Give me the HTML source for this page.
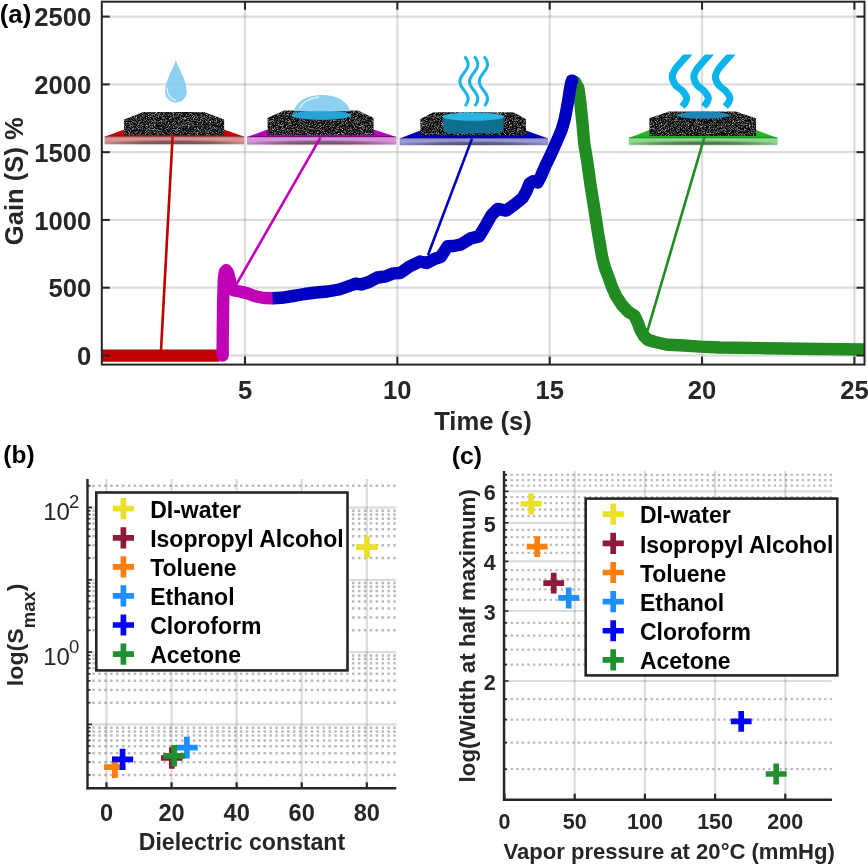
<!DOCTYPE html>
<html><head><meta charset="utf-8"><style>
html,body{margin:0;padding:0;background:#fff;}
svg{display:block;will-change:transform;}
text{font-family:"Liberation Sans", sans-serif;}
</style></head><body>
<svg width="868" height="864" viewBox="0 0 868 864">
<rect width="868" height="864" fill="#fff"/>
<line x1="245" y1="1.7" x2="245" y2="364.6" stroke="#000" stroke-width="2.3" stroke-opacity="0.135"/>
<line x1="397.35" y1="1.7" x2="397.35" y2="364.6" stroke="#000" stroke-width="2.3" stroke-opacity="0.135"/>
<line x1="549.7" y1="1.7" x2="549.7" y2="364.6" stroke="#000" stroke-width="2.3" stroke-opacity="0.135"/>
<line x1="702.05" y1="1.7" x2="702.05" y2="364.6" stroke="#000" stroke-width="2.3" stroke-opacity="0.135"/>
<line x1="854.4" y1="1.7" x2="854.4" y2="364.6" stroke="#000" stroke-width="2.3" stroke-opacity="0.135"/>
<line x1="101.8" y1="355.5" x2="864.5" y2="355.5" stroke="#000" stroke-width="2.3" stroke-opacity="0.135"/>
<line x1="101.8" y1="287.72" x2="864.5" y2="287.72" stroke="#000" stroke-width="2.3" stroke-opacity="0.135"/>
<line x1="101.8" y1="219.94" x2="864.5" y2="219.94" stroke="#000" stroke-width="2.3" stroke-opacity="0.135"/>
<line x1="101.8" y1="152.16" x2="864.5" y2="152.16" stroke="#000" stroke-width="2.3" stroke-opacity="0.135"/>
<line x1="101.8" y1="84.38" x2="864.5" y2="84.38" stroke="#000" stroke-width="2.3" stroke-opacity="0.135"/>
<line x1="101.8" y1="16.6" x2="864.5" y2="16.6" stroke="#000" stroke-width="2.3" stroke-opacity="0.135"/>
<text x="91.2" y="365.1" font-size="25.6" font-weight="bold" text-anchor="end" fill="#262626" >0</text>
<text x="91.2" y="297.32" font-size="25.6" font-weight="bold" text-anchor="end" fill="#262626" >500</text>
<text x="91.2" y="229.54" font-size="25.6" font-weight="bold" text-anchor="end" fill="#262626" >1000</text>
<text x="91.2" y="161.76" font-size="25.6" font-weight="bold" text-anchor="end" fill="#262626" >1500</text>
<text x="91.2" y="93.98" font-size="25.6" font-weight="bold" text-anchor="end" fill="#262626" >2000</text>
<text x="91.2" y="26.2" font-size="25.6" font-weight="bold" text-anchor="end" fill="#262626" >2500</text>
<text x="245" y="399" font-size="25.6" font-weight="bold" text-anchor="middle" fill="#262626" >5</text>
<text x="397.35" y="399" font-size="25.6" font-weight="bold" text-anchor="middle" fill="#262626" >10</text>
<text x="549.7" y="399" font-size="25.6" font-weight="bold" text-anchor="middle" fill="#262626" >15</text>
<text x="702.05" y="399" font-size="25.6" font-weight="bold" text-anchor="middle" fill="#262626" >20</text>
<text x="854.4" y="399" font-size="25.6" font-weight="bold" text-anchor="middle" fill="#262626" >25</text>
<text x="483" y="429.8" font-size="25.6" font-weight="bold" text-anchor="middle" fill="#262626" >Time (s)</text>
<text x="0" y="0" font-size="25.6" font-weight="bold" text-anchor="middle" fill="#262626" transform="translate(22.5 181.2) rotate(-90)">Gain (S) %</text>
<text x="-0.3" y="22.6" font-size="25.8" font-weight="bold" text-anchor="start" fill="#000" >(a)</text>
<defs>
<filter id="spk" x="0" y="0" width="100%" height="100%" color-interpolation-filters="sRGB">
<feTurbulence type="fractalNoise" baseFrequency="0.75 1.25" numOctaves="2" seed="7" result="n"/>
<feColorMatrix in="n" type="matrix" values="1.9 0 0 0 -0.81  1.9 0 0 0 -0.81  1.9 0 0 0 -0.81  0 0 0 0 1" result="g"/>
<feComposite in="g" in2="SourceGraphic" operator="in"/>
</filter>
<radialGradient id="shd" cx="0.5" cy="0.9" r="0.56" gradientUnits="objectBoundingBox">
<stop offset="0" stop-color="#202020" stop-opacity="0.6"/><stop offset="0.5" stop-color="#202020" stop-opacity="0.46"/><stop offset="0.8" stop-color="#202020" stop-opacity="0.18"/><stop offset="1" stop-color="#202020" stop-opacity="0"/></radialGradient>
</defs>
<path d="M104.5 136.8 L124.5 129.5 L224 129.5 L244.3 136.8 Z" fill="#c80000"/><rect x="104.5" y="136.8" width="139.8" height="7.4" fill="#dc9494"/><rect x="104.5" y="136.8" width="139.8" height="7.4" fill="url(#shd)"/><rect x="104.5" y="135.8" width="139.8" height="1.6" fill="#000" fill-opacity="0.25"/><rect x="104.5" y="144.2" width="139.8" height="1.2" fill="#000" fill-opacity="0.08"/>
<path d="M124 119.5 L143.5 112 L204 112 L224.2 119.5 L224.2 135.2 L124 135.2 Z" fill="#161616" filter="url(#spk)"/>
<path d="M175.9 60.1 C177.5 67 186.8 80 186.8 91.7 A10.85 10.85 0 0 1 165.1 91.7 C165.1 80 174.3 67 175.9 60.1 Z" fill="#7ec8f0" fill-opacity="0.88"/>
<path d="M167.2 88 C166.8 94 170 99 175.5 100.4" fill="none" stroke="#e4f6ff" stroke-width="1.2" stroke-linecap="round"/>
<path d="M247 137.1 L267.6 129.5 L373.6 129.5 L396.3 137.1 Z" fill="#b400b4"/><rect x="247" y="137.1" width="149.3" height="7.4" fill="#d894d8"/><rect x="247" y="137.1" width="149.3" height="7.4" fill="url(#shd)"/><rect x="247" y="136.1" width="149.3" height="1.6" fill="#000" fill-opacity="0.25"/><rect x="247" y="144.5" width="149.3" height="1.2" fill="#000" fill-opacity="0.08"/>
<path d="M267.6 117.8 L284.2 110.4 L358 110.4 L373.6 117.8 L373.6 135.3 L267.6 135.3 Z" fill="#161616" filter="url(#spk)"/>
<ellipse cx="321.5" cy="115.2" rx="30" ry="4.6" fill="#26a4d6"/>
<path d="M293.8 111.2 C296 101 308 94.9 321.9 94.9 C336 94.9 348 101 350 111.2 Z" fill="#8ed0f2"/>
<path d="M299.4 108.7 C302 103 309 98.6 318.7 97.2" fill="none" stroke="#e4f6ff" stroke-width="1.2" stroke-linecap="round"/>
<path d="M399.6 138.6 L420.4 130.5 L526 130.5 L548.2 138.6 Z" fill="#0000b4"/><rect x="399.6" y="138.6" width="148.6" height="6.5" fill="#9898dc"/><rect x="399.6" y="138.6" width="148.6" height="6.5" fill="url(#shd)"/><rect x="399.6" y="137.6" width="148.6" height="1.6" fill="#000" fill-opacity="0.25"/><rect x="399.6" y="145.1" width="148.6" height="1.2" fill="#000" fill-opacity="0.08"/>
<path d="M420.4 119 L433.3 112.3 L513.5 112.3 L526 119 L526 135.4 L420.4 135.4 Z" fill="#161616" filter="url(#spk)"/>
<path d="M443 116.2 L503.5 116.2 L503.5 127 C503.5 132 500 133.6 494 133.6 L452 133.6 C446 133.6 443 132 443 127 Z" fill="#0f6f8f"/>
<ellipse cx="473.3" cy="116.6" rx="31.1" ry="4.2" fill="#2cb4e4"/>
<path d="M465.34 57.5 L466.14 58.69 L466.84 59.88 L467.41 61.06 L467.82 62.25 L468.05 63.44 L468.09 64.62 L467.95 65.81 L467.61 67 L467.11 68.19 L466.47 69.38 L465.71 70.56 L464.87 71.75 L463.99 72.94 L463.11 74.12 L462.27 75.31 L461.52 76.5 L460.87 77.69 L460.38 78.88 L460.05 80.06 L459.91 81.25 L459.95 82.44 L460.19 83.62 L460.6 84.81 L461.17 86 L461.88 87.19 L462.68 88.38 L463.54 89.56 L464.43 90.75 L465.29 91.94 L466.1 93.12 L466.81 94.31 L467.38 95.5 L467.8 96.69 L468.04 97.88 L468.1 99.06 L467.96 100.25 L467.64 101.44 L467.14 102.62 L466.51 103.81 L465.75 105" fill="none" stroke="#1cb4e4" stroke-width="3.1" stroke-linecap="round" stroke-linejoin="round"/>
<path d="M475.04 57.5 L475.84 58.69 L476.54 59.88 L477.11 61.06 L477.52 62.25 L477.75 63.44 L477.79 64.62 L477.65 65.81 L477.31 67 L476.81 68.19 L476.17 69.38 L475.41 70.56 L474.57 71.75 L473.69 72.94 L472.81 74.12 L471.97 75.31 L471.22 76.5 L470.57 77.69 L470.08 78.88 L469.75 80.06 L469.61 81.25 L469.65 82.44 L469.89 83.62 L470.3 84.81 L470.87 86 L471.58 87.19 L472.38 88.38 L473.24 89.56 L474.13 90.75 L474.99 91.94 L475.8 93.12 L476.51 94.31 L477.08 95.5 L477.5 96.69 L477.74 97.88 L477.8 99.06 L477.66 100.25 L477.34 101.44 L476.84 102.62 L476.21 103.81 L475.45 105" fill="none" stroke="#1cb4e4" stroke-width="3.1" stroke-linecap="round" stroke-linejoin="round"/>
<path d="M484.74 57.5 L485.54 58.69 L486.24 59.88 L486.81 61.06 L487.22 62.25 L487.45 63.44 L487.49 64.62 L487.35 65.81 L487.01 67 L486.51 68.19 L485.87 69.38 L485.11 70.56 L484.27 71.75 L483.39 72.94 L482.51 74.12 L481.67 75.31 L480.92 76.5 L480.27 77.69 L479.78 78.88 L479.45 80.06 L479.31 81.25 L479.35 82.44 L479.59 83.62 L480 84.81 L480.57 86 L481.28 87.19 L482.08 88.38 L482.94 89.56 L483.83 90.75 L484.69 91.94 L485.5 93.12 L486.21 94.31 L486.78 95.5 L487.2 96.69 L487.44 97.88 L487.5 99.06 L487.36 100.25 L487.04 101.44 L486.54 102.62 L485.91 103.81 L485.15 105" fill="none" stroke="#1cb4e4" stroke-width="3.1" stroke-linecap="round" stroke-linejoin="round"/>
<path d="M628.8 137.9 L649.4 130 L756.1 130 L777.7 137.9 Z" fill="#22b822"/><rect x="628.8" y="137.9" width="148.9" height="6.9" fill="#8cd88c"/><rect x="628.8" y="137.9" width="148.9" height="6.9" fill="url(#shd)"/><rect x="628.8" y="136.9" width="148.9" height="1.6" fill="#000" fill-opacity="0.25"/><rect x="628.8" y="144.8" width="148.9" height="1.2" fill="#000" fill-opacity="0.08"/>
<path d="M649.4 118.3 L669 111.5 L735.6 111.5 L756.1 118.3 L756.1 136 L649.4 136 Z" fill="#161616" filter="url(#spk)"/>
<ellipse cx="703.2" cy="115.2" rx="26.4" ry="3.5" fill="#1e86b6"/>
<clipPath id="wclip"><rect x="600" y="54.5" width="200" height="60"/></clipPath>
<g clip-path="url(#wclip)">
<path d="M691.5 49.5 C690.83 50.42 689.18 52.95 687.5 55 C685.82 57.05 683.45 59.43 681.4 61.8 C679.35 64.17 676.73 66.73 675.2 69.2 C673.67 71.67 672.17 73.98 672.2 76.6 C672.23 79.22 673.63 82.45 675.4 84.9 C677.17 87.35 680.92 89.15 682.8 91.3 C684.68 93.45 686.33 95.85 686.7 97.8 C687.07 99.75 685.78 101.55 685 103 C684.22 104.45 682.5 105.92 682 106.5" fill="none" stroke="#0cb4ec" stroke-width="7" stroke-linecap="butt"/>
<path d="M713.1 49.5 C712.43 50.42 710.78 52.95 709.1 55 C707.42 57.05 705.05 59.43 703 61.8 C700.95 64.17 698.33 66.73 696.8 69.2 C695.27 71.67 693.77 73.98 693.8 76.6 C693.83 79.22 695.23 82.45 697 84.9 C698.77 87.35 702.52 89.15 704.4 91.3 C706.28 93.45 707.93 95.85 708.3 97.8 C708.67 99.75 707.38 101.55 706.6 103 C705.82 104.45 704.1 105.92 703.6 106.5" fill="none" stroke="#0cb4ec" stroke-width="7" stroke-linecap="butt"/>
<path d="M734.7 49.5 C734.03 50.42 732.38 52.95 730.7 55 C729.02 57.05 726.65 59.43 724.6 61.8 C722.55 64.17 719.93 66.73 718.4 69.2 C716.87 71.67 715.37 73.98 715.4 76.6 C715.43 79.22 716.83 82.45 718.6 84.9 C720.37 87.35 724.12 89.15 726 91.3 C727.88 93.45 729.53 95.85 729.9 97.8 C730.27 99.75 728.98 101.55 728.2 103 C727.42 104.45 725.7 105.92 725.2 106.5" fill="none" stroke="#0cb4ec" stroke-width="7" stroke-linecap="butt"/>
</g>
<clipPath id="clipA"><rect x="101.8" y="1.7" width="762.7" height="362.90000000000003"/></clipPath>
<g clip-path="url(#clipA)">
<line x1="172.6" y1="136.6" x2="160.9" y2="352" stroke="#c00000" stroke-width="2.6" />
<line x1="320.4" y1="137.6" x2="235.8" y2="285.4" stroke="#c000b4" stroke-width="2.6" />
<line x1="472" y1="138.6" x2="428" y2="255" stroke="#0000c0" stroke-width="2.6" />
<line x1="704.2" y1="137.9" x2="647.3" y2="331.3" stroke="#228b22" stroke-width="2.6" />
<path d="M96 355.6 L219.5 355.6" stroke="#c00000" stroke-width="12.4" fill="none"/>
<path d="M222.6 355.5 L222.8 330 L223.2 300 L223.8 280 L224.8 272 L226.2 270.2 L228 272.5 L229.8 280 L231.5 287.5 L234 290.5 L240 291.5 L248 293.5 L256 296.5 L264 298 L272.6 298.2" fill="none" stroke="#c000b4" stroke-width="12.4" stroke-linejoin="round" stroke-linecap="round" />
<path d="M572 80.6 L575 82 L578.3 87.8 L580.2 101.7 L582.4 122.5 L584.2 143.3 L587 160 L590.5 185 L594.3 208.6 L598 232.9 L602.2 257.2 L605 268 L608.3 276.6 L612 287 L616.1 296.1 L622 305 L628.3 311.9 L634.4 315.5 L637.5 322 L640.5 330.1 L644 336 L647.8 339.8 L655 342 L667.2 344.7 L680 345.2 L700 346.6 L720 347.5 L766.6 348.2 L820 349 L870 349.5" fill="none" stroke="#228b22" stroke-width="12.4" stroke-linejoin="round" stroke-linecap="round" />
<path d="M272.6 298.2 L281.5 297.8 L293 296 L304.6 294 L316.1 292.5 L327.6 291.5 L339.1 289.5 L350.6 285.5 L355.8 283.6 L361 284.5 L369 282 L377.3 277.5 L385.3 276.5 L393.4 273.4 L400.3 273 L409.5 266.5 L419.9 261.5 L426.8 263 L434.9 258.7 L440.6 257 L447.6 246.3 L453.3 246 L460.4 244.7 L470.7 238.4 L479 236.4 L484.2 228 L491.5 215.1 L497.7 208.9 L506 210.6 L514.3 204.7 L522.6 198 L526.5 191 L529.5 183.5 L533 181.3 L537.7 182.4 L541 176 L545.1 166.3 L549.7 157 L553.9 147.8 L558 138.5 L561.8 129.3 L564.5 120 L566.5 110 L568 101.7 L569.5 92 L570.7 85 L572 80.6" fill="none" stroke="#0000c0" stroke-width="12.4" stroke-linejoin="round" stroke-linecap="butt" />
<circle cx="572" cy="80.6" r="6.2" fill="#0000c0"/>
</g>
<rect x="101.8" y="1.7" width="762.7" height="362.9" fill="none" stroke="#262626" stroke-width="2"/>
<line x1="245" y1="364.6" x2="245" y2="356.6" stroke="#262626" stroke-width="2" />
<line x1="245" y1="1.7" x2="245" y2="9.7" stroke="#262626" stroke-width="2" />
<line x1="397.35" y1="364.6" x2="397.35" y2="356.6" stroke="#262626" stroke-width="2" />
<line x1="397.35" y1="1.7" x2="397.35" y2="9.7" stroke="#262626" stroke-width="2" />
<line x1="549.7" y1="364.6" x2="549.7" y2="356.6" stroke="#262626" stroke-width="2" />
<line x1="549.7" y1="1.7" x2="549.7" y2="9.7" stroke="#262626" stroke-width="2" />
<line x1="702.05" y1="364.6" x2="702.05" y2="356.6" stroke="#262626" stroke-width="2" />
<line x1="702.05" y1="1.7" x2="702.05" y2="9.7" stroke="#262626" stroke-width="2" />
<line x1="854.4" y1="364.6" x2="854.4" y2="356.6" stroke="#262626" stroke-width="2" />
<line x1="854.4" y1="1.7" x2="854.4" y2="9.7" stroke="#262626" stroke-width="2" />
<line x1="101.8" y1="355.5" x2="109.8" y2="355.5" stroke="#262626" stroke-width="2" />
<line x1="864.5" y1="355.5" x2="856.5" y2="355.5" stroke="#262626" stroke-width="2" />
<line x1="101.8" y1="287.72" x2="109.8" y2="287.72" stroke="#262626" stroke-width="2" />
<line x1="864.5" y1="287.72" x2="856.5" y2="287.72" stroke="#262626" stroke-width="2" />
<line x1="101.8" y1="219.94" x2="109.8" y2="219.94" stroke="#262626" stroke-width="2" />
<line x1="864.5" y1="219.94" x2="856.5" y2="219.94" stroke="#262626" stroke-width="2" />
<line x1="101.8" y1="152.16" x2="109.8" y2="152.16" stroke="#262626" stroke-width="2" />
<line x1="864.5" y1="152.16" x2="856.5" y2="152.16" stroke="#262626" stroke-width="2" />
<line x1="101.8" y1="84.38" x2="109.8" y2="84.38" stroke="#262626" stroke-width="2" />
<line x1="864.5" y1="84.38" x2="856.5" y2="84.38" stroke="#262626" stroke-width="2" />
<line x1="101.8" y1="16.6" x2="109.8" y2="16.6" stroke="#262626" stroke-width="2" />
<line x1="864.5" y1="16.6" x2="856.5" y2="16.6" stroke="#262626" stroke-width="2" />
<text x="3.3" y="462.8" font-size="24.5" font-weight="bold" text-anchor="start" fill="#000" >(b)</text>
<line x1="86.5" y1="774.94" x2="396.3" y2="774.94" stroke="#000" stroke-width="2.5" stroke-opacity="0.27" stroke-dasharray="2.5 3.4"/>
<line x1="86.5" y1="762.2" x2="396.3" y2="762.2" stroke="#000" stroke-width="2.5" stroke-opacity="0.27" stroke-dasharray="2.5 3.4"/>
<line x1="86.5" y1="753.17" x2="396.3" y2="753.17" stroke="#000" stroke-width="2.5" stroke-opacity="0.27" stroke-dasharray="2.5 3.4"/>
<line x1="86.5" y1="746.16" x2="396.3" y2="746.16" stroke="#000" stroke-width="2.5" stroke-opacity="0.27" stroke-dasharray="2.5 3.4"/>
<line x1="86.5" y1="740.44" x2="396.3" y2="740.44" stroke="#000" stroke-width="2.5" stroke-opacity="0.27" stroke-dasharray="2.5 3.4"/>
<line x1="86.5" y1="735.6" x2="396.3" y2="735.6" stroke="#000" stroke-width="2.5" stroke-opacity="0.27" stroke-dasharray="2.5 3.4"/>
<line x1="86.5" y1="731.41" x2="396.3" y2="731.41" stroke="#000" stroke-width="2.5" stroke-opacity="0.27" stroke-dasharray="2.5 3.4"/>
<line x1="86.5" y1="727.71" x2="396.3" y2="727.71" stroke="#000" stroke-width="2.5" stroke-opacity="0.27" stroke-dasharray="2.5 3.4"/>
<line x1="86.5" y1="702.64" x2="396.3" y2="702.64" stroke="#000" stroke-width="2.5" stroke-opacity="0.27" stroke-dasharray="2.5 3.4"/>
<line x1="86.5" y1="689.9" x2="396.3" y2="689.9" stroke="#000" stroke-width="2.5" stroke-opacity="0.27" stroke-dasharray="2.5 3.4"/>
<line x1="86.5" y1="680.87" x2="396.3" y2="680.87" stroke="#000" stroke-width="2.5" stroke-opacity="0.27" stroke-dasharray="2.5 3.4"/>
<line x1="86.5" y1="673.86" x2="396.3" y2="673.86" stroke="#000" stroke-width="2.5" stroke-opacity="0.27" stroke-dasharray="2.5 3.4"/>
<line x1="86.5" y1="668.14" x2="396.3" y2="668.14" stroke="#000" stroke-width="2.5" stroke-opacity="0.27" stroke-dasharray="2.5 3.4"/>
<line x1="86.5" y1="663.3" x2="396.3" y2="663.3" stroke="#000" stroke-width="2.5" stroke-opacity="0.27" stroke-dasharray="2.5 3.4"/>
<line x1="86.5" y1="659.11" x2="396.3" y2="659.11" stroke="#000" stroke-width="2.5" stroke-opacity="0.27" stroke-dasharray="2.5 3.4"/>
<line x1="86.5" y1="655.41" x2="396.3" y2="655.41" stroke="#000" stroke-width="2.5" stroke-opacity="0.27" stroke-dasharray="2.5 3.4"/>
<line x1="86.5" y1="630.34" x2="396.3" y2="630.34" stroke="#000" stroke-width="2.5" stroke-opacity="0.27" stroke-dasharray="2.5 3.4"/>
<line x1="86.5" y1="617.6" x2="396.3" y2="617.6" stroke="#000" stroke-width="2.5" stroke-opacity="0.27" stroke-dasharray="2.5 3.4"/>
<line x1="86.5" y1="608.57" x2="396.3" y2="608.57" stroke="#000" stroke-width="2.5" stroke-opacity="0.27" stroke-dasharray="2.5 3.4"/>
<line x1="86.5" y1="601.56" x2="396.3" y2="601.56" stroke="#000" stroke-width="2.5" stroke-opacity="0.27" stroke-dasharray="2.5 3.4"/>
<line x1="86.5" y1="595.84" x2="396.3" y2="595.84" stroke="#000" stroke-width="2.5" stroke-opacity="0.27" stroke-dasharray="2.5 3.4"/>
<line x1="86.5" y1="591" x2="396.3" y2="591" stroke="#000" stroke-width="2.5" stroke-opacity="0.27" stroke-dasharray="2.5 3.4"/>
<line x1="86.5" y1="586.81" x2="396.3" y2="586.81" stroke="#000" stroke-width="2.5" stroke-opacity="0.27" stroke-dasharray="2.5 3.4"/>
<line x1="86.5" y1="583.11" x2="396.3" y2="583.11" stroke="#000" stroke-width="2.5" stroke-opacity="0.27" stroke-dasharray="2.5 3.4"/>
<line x1="86.5" y1="558.04" x2="396.3" y2="558.04" stroke="#000" stroke-width="2.5" stroke-opacity="0.27" stroke-dasharray="2.5 3.4"/>
<line x1="86.5" y1="545.3" x2="396.3" y2="545.3" stroke="#000" stroke-width="2.5" stroke-opacity="0.27" stroke-dasharray="2.5 3.4"/>
<line x1="86.5" y1="536.27" x2="396.3" y2="536.27" stroke="#000" stroke-width="2.5" stroke-opacity="0.27" stroke-dasharray="2.5 3.4"/>
<line x1="86.5" y1="529.26" x2="396.3" y2="529.26" stroke="#000" stroke-width="2.5" stroke-opacity="0.27" stroke-dasharray="2.5 3.4"/>
<line x1="86.5" y1="523.54" x2="396.3" y2="523.54" stroke="#000" stroke-width="2.5" stroke-opacity="0.27" stroke-dasharray="2.5 3.4"/>
<line x1="86.5" y1="518.7" x2="396.3" y2="518.7" stroke="#000" stroke-width="2.5" stroke-opacity="0.27" stroke-dasharray="2.5 3.4"/>
<line x1="86.5" y1="514.51" x2="396.3" y2="514.51" stroke="#000" stroke-width="2.5" stroke-opacity="0.27" stroke-dasharray="2.5 3.4"/>
<line x1="86.5" y1="510.81" x2="396.3" y2="510.81" stroke="#000" stroke-width="2.5" stroke-opacity="0.27" stroke-dasharray="2.5 3.4"/>
<line x1="86.5" y1="485.74" x2="396.3" y2="485.74" stroke="#000" stroke-width="2.5" stroke-opacity="0.27" stroke-dasharray="2.5 3.4"/>
<line x1="88.5" y1="724.4" x2="396.3" y2="724.4" stroke="#000" stroke-width="2.3" stroke-opacity="0.135"/>
<line x1="88.5" y1="652.1" x2="396.3" y2="652.1" stroke="#000" stroke-width="2.3" stroke-opacity="0.135"/>
<line x1="88.5" y1="579.8" x2="396.3" y2="579.8" stroke="#000" stroke-width="2.3" stroke-opacity="0.135"/>
<line x1="88.5" y1="507.5" x2="396.3" y2="507.5" stroke="#000" stroke-width="2.3" stroke-opacity="0.135"/>
<line x1="106.5" y1="479" x2="106.5" y2="788.3" stroke="#000" stroke-width="2.3" stroke-opacity="0.135"/>
<line x1="171.58" y1="479" x2="171.58" y2="788.3" stroke="#000" stroke-width="2.3" stroke-opacity="0.135"/>
<line x1="236.66" y1="479" x2="236.66" y2="788.3" stroke="#000" stroke-width="2.3" stroke-opacity="0.135"/>
<line x1="301.74" y1="479" x2="301.74" y2="788.3" stroke="#000" stroke-width="2.3" stroke-opacity="0.135"/>
<line x1="366.82" y1="479" x2="366.82" y2="788.3" stroke="#000" stroke-width="2.3" stroke-opacity="0.135"/>
<line x1="87.5" y1="479" x2="87.5" y2="789.3" stroke="#262626" stroke-width="2.4" />
<line x1="86.5" y1="788.3" x2="396.3" y2="788.3" stroke="#262626" stroke-width="2.4" />
<line x1="106.5" y1="788.3" x2="106.5" y2="782.3" stroke="#262626" stroke-width="2.2" />
<line x1="171.58" y1="788.3" x2="171.58" y2="782.3" stroke="#262626" stroke-width="2.2" />
<line x1="236.66" y1="788.3" x2="236.66" y2="782.3" stroke="#262626" stroke-width="2.2" />
<line x1="301.74" y1="788.3" x2="301.74" y2="782.3" stroke="#262626" stroke-width="2.2" />
<line x1="366.82" y1="788.3" x2="366.82" y2="782.3" stroke="#262626" stroke-width="2.2" />
<line x1="87.5" y1="774.94" x2="90.5" y2="774.94" stroke="#262626" stroke-width="1.6" />
<line x1="87.5" y1="762.2" x2="90.5" y2="762.2" stroke="#262626" stroke-width="1.6" />
<line x1="87.5" y1="753.17" x2="90.5" y2="753.17" stroke="#262626" stroke-width="1.6" />
<line x1="87.5" y1="746.16" x2="90.5" y2="746.16" stroke="#262626" stroke-width="1.6" />
<line x1="87.5" y1="740.44" x2="90.5" y2="740.44" stroke="#262626" stroke-width="1.6" />
<line x1="87.5" y1="735.6" x2="90.5" y2="735.6" stroke="#262626" stroke-width="1.6" />
<line x1="87.5" y1="731.41" x2="90.5" y2="731.41" stroke="#262626" stroke-width="1.6" />
<line x1="87.5" y1="727.71" x2="90.5" y2="727.71" stroke="#262626" stroke-width="1.6" />
<line x1="87.5" y1="724.4" x2="92" y2="724.4" stroke="#262626" stroke-width="1.6" />
<line x1="87.5" y1="702.64" x2="90.5" y2="702.64" stroke="#262626" stroke-width="1.6" />
<line x1="87.5" y1="689.9" x2="90.5" y2="689.9" stroke="#262626" stroke-width="1.6" />
<line x1="87.5" y1="680.87" x2="90.5" y2="680.87" stroke="#262626" stroke-width="1.6" />
<line x1="87.5" y1="673.86" x2="90.5" y2="673.86" stroke="#262626" stroke-width="1.6" />
<line x1="87.5" y1="668.14" x2="90.5" y2="668.14" stroke="#262626" stroke-width="1.6" />
<line x1="87.5" y1="663.3" x2="90.5" y2="663.3" stroke="#262626" stroke-width="1.6" />
<line x1="87.5" y1="659.11" x2="90.5" y2="659.11" stroke="#262626" stroke-width="1.6" />
<line x1="87.5" y1="655.41" x2="90.5" y2="655.41" stroke="#262626" stroke-width="1.6" />
<line x1="87.5" y1="652.1" x2="92" y2="652.1" stroke="#262626" stroke-width="1.6" />
<line x1="87.5" y1="630.34" x2="90.5" y2="630.34" stroke="#262626" stroke-width="1.6" />
<line x1="87.5" y1="617.6" x2="90.5" y2="617.6" stroke="#262626" stroke-width="1.6" />
<line x1="87.5" y1="608.57" x2="90.5" y2="608.57" stroke="#262626" stroke-width="1.6" />
<line x1="87.5" y1="601.56" x2="90.5" y2="601.56" stroke="#262626" stroke-width="1.6" />
<line x1="87.5" y1="595.84" x2="90.5" y2="595.84" stroke="#262626" stroke-width="1.6" />
<line x1="87.5" y1="591" x2="90.5" y2="591" stroke="#262626" stroke-width="1.6" />
<line x1="87.5" y1="586.81" x2="90.5" y2="586.81" stroke="#262626" stroke-width="1.6" />
<line x1="87.5" y1="583.11" x2="90.5" y2="583.11" stroke="#262626" stroke-width="1.6" />
<line x1="87.5" y1="579.8" x2="92" y2="579.8" stroke="#262626" stroke-width="1.6" />
<line x1="87.5" y1="558.04" x2="90.5" y2="558.04" stroke="#262626" stroke-width="1.6" />
<line x1="87.5" y1="545.3" x2="90.5" y2="545.3" stroke="#262626" stroke-width="1.6" />
<line x1="87.5" y1="536.27" x2="90.5" y2="536.27" stroke="#262626" stroke-width="1.6" />
<line x1="87.5" y1="529.26" x2="90.5" y2="529.26" stroke="#262626" stroke-width="1.6" />
<line x1="87.5" y1="523.54" x2="90.5" y2="523.54" stroke="#262626" stroke-width="1.6" />
<line x1="87.5" y1="518.7" x2="90.5" y2="518.7" stroke="#262626" stroke-width="1.6" />
<line x1="87.5" y1="514.51" x2="90.5" y2="514.51" stroke="#262626" stroke-width="1.6" />
<line x1="87.5" y1="510.81" x2="90.5" y2="510.81" stroke="#262626" stroke-width="1.6" />
<line x1="87.5" y1="507.5" x2="92" y2="507.5" stroke="#262626" stroke-width="1.6" />
<line x1="87.5" y1="485.74" x2="90.5" y2="485.74" stroke="#262626" stroke-width="1.6" />
<text x="106.5" y="820.6" font-size="23.6" font-weight="bold" text-anchor="middle" fill="#262626" >0</text>
<text x="171.58" y="820.6" font-size="23.6" font-weight="bold" text-anchor="middle" fill="#262626" >20</text>
<text x="236.66" y="820.6" font-size="23.6" font-weight="bold" text-anchor="middle" fill="#262626" >40</text>
<text x="301.74" y="820.6" font-size="23.6" font-weight="bold" text-anchor="middle" fill="#262626" >60</text>
<text x="366.82" y="820.6" font-size="23.6" font-weight="bold" text-anchor="middle" fill="#262626" >80</text>
<text transform="translate(241.95 849.5) scale(0.982 1)" font-size="23.5" font-weight="bold" text-anchor="middle" fill="#262626">Dielectric constant</text>
<text x="43.2" y="665" font-size="24" font-weight="normal" text-anchor="start" fill="#262626" >10</text>
<text x="69" y="653.2" font-size="18.5" font-weight="normal" text-anchor="start" fill="#262626" >0</text>
<text x="43.2" y="520.2" font-size="24" font-weight="normal" text-anchor="start" fill="#262626" >10</text>
<text x="69" y="508.4" font-size="18.5" font-weight="normal" text-anchor="start" fill="#262626" >2</text>
<text transform="translate(23.3 686.2) rotate(-90) scale(1.055 1)" font-size="22" font-weight="bold" fill="#262626">log(S<tspan font-size="17.5" dy="12.1">max</tspan><tspan dy="-12.1">)</tspan></text>
<path d="M356.1 544.25H377.9V549.95H356.1Z M364.15 536.2H369.85V558H364.15Z" fill="#ebe12a"/>
<path d="M161 755.15H182.6V760.85H161Z M168.95 747.2H174.65V768.8H168.95Z" fill="#8b1a3b"/>
<path d="M104.05 764.35H125.65V770.05H104.05Z M112 756.4H117.7V778H112Z" fill="#ff7f0e"/>
<path d="M176.1 744.75H197.7V750.45H176.1Z M184.05 736.8H189.75V758.4H184.05Z" fill="#1e8fff"/>
<path d="M111.95 756.55H133.15V762.25H111.95Z M119.7 748.8H125.4V770H119.7Z" fill="#0000ff"/>
<path d="M163.4 752.95H184.8V758.65H163.4Z M171.25 745.1H176.95V766.5H171.25Z" fill="#1f8f2f"/>
<rect x="96.3" y="492.5" width="251.2" height="177.9" fill="#fff" stroke="#262626" stroke-width="2.6"/>
<path d="M112.8 505.85H134V511.55H112.8Z M120.55 498.1H126.25V519.3H120.55Z" fill="#ebe12a"/>
<text x="150.2" y="517.9" font-size="23" font-weight="bold" text-anchor="start" fill="#000" >DI-water</text>
<path d="M112.8 534.93H134V540.63H112.8Z M120.55 527.18H126.25V548.38H120.55Z" fill="#8b1a3b"/>
<text x="150.2" y="546.98" font-size="23" font-weight="bold" text-anchor="start" fill="#000" >Isopropyl Alcohol</text>
<path d="M112.8 564.01H134V569.71H112.8Z M120.55 556.26H126.25V577.46H120.55Z" fill="#ff7f0e"/>
<text x="150.2" y="576.06" font-size="23" font-weight="bold" text-anchor="start" fill="#000" >Toluene</text>
<path d="M112.8 593.09H134V598.79H112.8Z M120.55 585.34H126.25V606.54H120.55Z" fill="#1e8fff"/>
<text x="150.2" y="605.14" font-size="23" font-weight="bold" text-anchor="start" fill="#000" >Ethanol</text>
<path d="M112.8 622.17H134V627.87H112.8Z M120.55 614.42H126.25V635.62H120.55Z" fill="#0000ff"/>
<text x="150.2" y="634.22" font-size="23" font-weight="bold" text-anchor="start" fill="#000" >Cloroform</text>
<path d="M112.8 651.25H134V656.95H112.8Z M120.55 643.5H126.25V664.7H120.55Z" fill="#1f8f2f"/>
<text x="150.2" y="663.3" font-size="23" font-weight="bold" text-anchor="start" fill="#000" >Acetone</text>
<text x="451.8" y="463.9" font-size="24.8" font-weight="bold" text-anchor="start" fill="#000" >(c)</text>
<line x1="505" y1="769.22" x2="831.9" y2="769.22" stroke="#000" stroke-width="2.3" stroke-opacity="0.27" stroke-dasharray="2.3 3.3"/>
<line x1="505" y1="742.6" x2="831.9" y2="742.6" stroke="#000" stroke-width="2.3" stroke-opacity="0.27" stroke-dasharray="2.3 3.3"/>
<line x1="505" y1="719.55" x2="831.9" y2="719.55" stroke="#000" stroke-width="2.3" stroke-opacity="0.27" stroke-dasharray="2.3 3.3"/>
<line x1="505" y1="699.21" x2="831.9" y2="699.21" stroke="#000" stroke-width="2.3" stroke-opacity="0.27" stroke-dasharray="2.3 3.3"/>
<line x1="505" y1="664.56" x2="831.9" y2="664.56" stroke="#000" stroke-width="2.3" stroke-opacity="0.27" stroke-dasharray="2.3 3.3"/>
<line x1="505" y1="649.53" x2="831.9" y2="649.53" stroke="#000" stroke-width="2.3" stroke-opacity="0.27" stroke-dasharray="2.3 3.3"/>
<line x1="505" y1="635.71" x2="831.9" y2="635.71" stroke="#000" stroke-width="2.3" stroke-opacity="0.27" stroke-dasharray="2.3 3.3"/>
<line x1="505" y1="622.91" x2="831.9" y2="622.91" stroke="#000" stroke-width="2.3" stroke-opacity="0.27" stroke-dasharray="2.3 3.3"/>
<line x1="505" y1="599.86" x2="831.9" y2="599.86" stroke="#000" stroke-width="2.3" stroke-opacity="0.27" stroke-dasharray="2.3 3.3"/>
<line x1="505" y1="589.39" x2="831.9" y2="589.39" stroke="#000" stroke-width="2.3" stroke-opacity="0.27" stroke-dasharray="2.3 3.3"/>
<line x1="505" y1="579.52" x2="831.9" y2="579.52" stroke="#000" stroke-width="2.3" stroke-opacity="0.27" stroke-dasharray="2.3 3.3"/>
<line x1="505" y1="570.18" x2="831.9" y2="570.18" stroke="#000" stroke-width="2.3" stroke-opacity="0.27" stroke-dasharray="2.3 3.3"/>
<line x1="505" y1="552.9" x2="831.9" y2="552.9" stroke="#000" stroke-width="2.3" stroke-opacity="0.27" stroke-dasharray="2.3 3.3"/>
<line x1="505" y1="544.87" x2="831.9" y2="544.87" stroke="#000" stroke-width="2.3" stroke-opacity="0.27" stroke-dasharray="2.3 3.3"/>
<line x1="505" y1="537.19" x2="831.9" y2="537.19" stroke="#000" stroke-width="2.3" stroke-opacity="0.27" stroke-dasharray="2.3 3.3"/>
<line x1="505" y1="529.84" x2="831.9" y2="529.84" stroke="#000" stroke-width="2.3" stroke-opacity="0.27" stroke-dasharray="2.3 3.3"/>
<line x1="505" y1="516.02" x2="831.9" y2="516.02" stroke="#000" stroke-width="2.3" stroke-opacity="0.27" stroke-dasharray="2.3 3.3"/>
<line x1="505" y1="509.5" x2="831.9" y2="509.5" stroke="#000" stroke-width="2.3" stroke-opacity="0.27" stroke-dasharray="2.3 3.3"/>
<line x1="505" y1="503.22" x2="831.9" y2="503.22" stroke="#000" stroke-width="2.3" stroke-opacity="0.27" stroke-dasharray="2.3 3.3"/>
<line x1="505" y1="497.16" x2="831.9" y2="497.16" stroke="#000" stroke-width="2.3" stroke-opacity="0.27" stroke-dasharray="2.3 3.3"/>
<line x1="505" y1="485.65" x2="831.9" y2="485.65" stroke="#000" stroke-width="2.3" stroke-opacity="0.27" stroke-dasharray="2.3 3.3"/>
<line x1="505" y1="480.17" x2="831.9" y2="480.17" stroke="#000" stroke-width="2.3" stroke-opacity="0.27" stroke-dasharray="2.3 3.3"/>
<line x1="505" y1="474.85" x2="831.9" y2="474.85" stroke="#000" stroke-width="2.3" stroke-opacity="0.27" stroke-dasharray="2.3 3.3"/>
<line x1="505" y1="681.01" x2="831.9" y2="681.01" stroke="#000" stroke-width="2.2" stroke-opacity="0.135"/>
<line x1="505" y1="611" x2="831.9" y2="611" stroke="#000" stroke-width="2.2" stroke-opacity="0.135"/>
<line x1="505" y1="561.32" x2="831.9" y2="561.32" stroke="#000" stroke-width="2.2" stroke-opacity="0.135"/>
<line x1="505" y1="522.79" x2="831.9" y2="522.79" stroke="#000" stroke-width="2.2" stroke-opacity="0.135"/>
<line x1="505" y1="491.31" x2="831.9" y2="491.31" stroke="#000" stroke-width="2.2" stroke-opacity="0.135"/>
<line x1="504.5" y1="471" x2="504.5" y2="799.7" stroke="#000" stroke-width="2.2" stroke-opacity="0.135"/>
<line x1="574.7" y1="471" x2="574.7" y2="799.7" stroke="#000" stroke-width="2.2" stroke-opacity="0.135"/>
<line x1="644.9" y1="471" x2="644.9" y2="799.7" stroke="#000" stroke-width="2.2" stroke-opacity="0.135"/>
<line x1="715.1" y1="471" x2="715.1" y2="799.7" stroke="#000" stroke-width="2.2" stroke-opacity="0.135"/>
<line x1="785.3" y1="471" x2="785.3" y2="799.7" stroke="#000" stroke-width="2.2" stroke-opacity="0.135"/>
<line x1="504" y1="471" x2="504" y2="800.7" stroke="#262626" stroke-width="2.4" />
<line x1="503" y1="799.7" x2="831.9" y2="799.7" stroke="#262626" stroke-width="2.4" />
<line x1="504.5" y1="799.7" x2="504.5" y2="793.7" stroke="#262626" stroke-width="2.2" />
<line x1="574.7" y1="799.7" x2="574.7" y2="793.7" stroke="#262626" stroke-width="2.2" />
<line x1="644.9" y1="799.7" x2="644.9" y2="793.7" stroke="#262626" stroke-width="2.2" />
<line x1="715.1" y1="799.7" x2="715.1" y2="793.7" stroke="#262626" stroke-width="2.2" />
<line x1="785.3" y1="799.7" x2="785.3" y2="793.7" stroke="#262626" stroke-width="2.2" />
<line x1="504" y1="769.22" x2="507" y2="769.22" stroke="#262626" stroke-width="1.6" />
<line x1="504" y1="742.6" x2="507" y2="742.6" stroke="#262626" stroke-width="1.6" />
<line x1="504" y1="719.55" x2="507" y2="719.55" stroke="#262626" stroke-width="1.6" />
<line x1="504" y1="699.21" x2="507" y2="699.21" stroke="#262626" stroke-width="1.6" />
<line x1="504" y1="681.01" x2="508.5" y2="681.01" stroke="#262626" stroke-width="1.6" />
<line x1="504" y1="664.56" x2="507" y2="664.56" stroke="#262626" stroke-width="1.6" />
<line x1="504" y1="649.53" x2="507" y2="649.53" stroke="#262626" stroke-width="1.6" />
<line x1="504" y1="635.71" x2="507" y2="635.71" stroke="#262626" stroke-width="1.6" />
<line x1="504" y1="622.91" x2="507" y2="622.91" stroke="#262626" stroke-width="1.6" />
<line x1="504" y1="611" x2="508.5" y2="611" stroke="#262626" stroke-width="1.6" />
<line x1="504" y1="599.86" x2="507" y2="599.86" stroke="#262626" stroke-width="1.6" />
<line x1="504" y1="589.39" x2="507" y2="589.39" stroke="#262626" stroke-width="1.6" />
<line x1="504" y1="579.52" x2="507" y2="579.52" stroke="#262626" stroke-width="1.6" />
<line x1="504" y1="570.18" x2="507" y2="570.18" stroke="#262626" stroke-width="1.6" />
<line x1="504" y1="561.32" x2="508.5" y2="561.32" stroke="#262626" stroke-width="1.6" />
<line x1="504" y1="552.9" x2="507" y2="552.9" stroke="#262626" stroke-width="1.6" />
<line x1="504" y1="544.87" x2="507" y2="544.87" stroke="#262626" stroke-width="1.6" />
<line x1="504" y1="537.19" x2="507" y2="537.19" stroke="#262626" stroke-width="1.6" />
<line x1="504" y1="529.84" x2="507" y2="529.84" stroke="#262626" stroke-width="1.6" />
<line x1="504" y1="522.79" x2="508.5" y2="522.79" stroke="#262626" stroke-width="1.6" />
<line x1="504" y1="516.02" x2="507" y2="516.02" stroke="#262626" stroke-width="1.6" />
<line x1="504" y1="509.5" x2="507" y2="509.5" stroke="#262626" stroke-width="1.6" />
<line x1="504" y1="503.22" x2="507" y2="503.22" stroke="#262626" stroke-width="1.6" />
<line x1="504" y1="497.16" x2="507" y2="497.16" stroke="#262626" stroke-width="1.6" />
<line x1="504" y1="491.31" x2="508.5" y2="491.31" stroke="#262626" stroke-width="1.6" />
<line x1="504" y1="485.65" x2="507" y2="485.65" stroke="#262626" stroke-width="1.6" />
<line x1="504" y1="480.17" x2="507" y2="480.17" stroke="#262626" stroke-width="1.6" />
<line x1="504" y1="474.85" x2="507" y2="474.85" stroke="#262626" stroke-width="1.6" />
<text transform="translate(504.5 828.9) scale(0.95 1)" font-size="22.7" font-weight="bold" text-anchor="middle" fill="#262626">0</text>
<text transform="translate(574.7 828.9) scale(0.95 1)" font-size="22.7" font-weight="bold" text-anchor="middle" fill="#262626">50</text>
<text transform="translate(644.9 828.9) scale(0.95 1)" font-size="22.7" font-weight="bold" text-anchor="middle" fill="#262626">100</text>
<text transform="translate(715.1 828.9) scale(0.95 1)" font-size="22.7" font-weight="bold" text-anchor="middle" fill="#262626">150</text>
<text transform="translate(785.3 828.9) scale(0.95 1)" font-size="22.7" font-weight="bold" text-anchor="middle" fill="#262626">200</text>
<text transform="translate(669.2 858.8) scale(0.973 1)" font-size="22.7" font-weight="bold" text-anchor="middle" fill="#262626">Vapor pressure at 20°C (mmHg)</text>
<text transform="translate(495.8 690.11) scale(0.95 1)" font-size="22.7" font-weight="bold" text-anchor="end" fill="#262626">2</text>
<text transform="translate(495.8 620.1) scale(0.95 1)" font-size="22.7" font-weight="bold" text-anchor="end" fill="#262626">3</text>
<text transform="translate(495.8 570.42) scale(0.95 1)" font-size="22.7" font-weight="bold" text-anchor="end" fill="#262626">4</text>
<text transform="translate(495.8 531.89) scale(0.95 1)" font-size="22.7" font-weight="bold" text-anchor="end" fill="#262626">5</text>
<text transform="translate(495.8 500.41) scale(0.95 1)" font-size="22.7" font-weight="bold" text-anchor="end" fill="#262626">6</text>
<text transform="translate(474.7 635.75) rotate(-90) scale(1.009 1)" font-size="22.2" font-weight="bold" text-anchor="middle" fill="#262626">log(Width at half maximum)</text>
<path d="M520.6 501.05H541.6V506.75H520.6Z M528.25 493.4H533.95V514.4H528.25Z" fill="#ebe12a"/>
<path d="M543.3 580.35H564.1V586.05H543.3Z M550.85 572.8H556.55V593.6H550.85Z" fill="#8b1a3b"/>
<path d="M526.8 543.85H547.6V549.55H526.8Z M534.35 536.3H540.05V557.1H534.35Z" fill="#ff7f0e"/>
<path d="M558.2 595.05H579.2V600.75H558.2Z M565.85 587.4H571.55V608.4H565.85Z" fill="#1e8fff"/>
<path d="M730.8 718.55H751.6V724.25H730.8Z M738.35 711H744.05V731.8H738.35Z" fill="#0000ff"/>
<path d="M765.75 771.15H786.65V776.85H765.75Z M773.35 763.55H779.05V784.45H773.35Z" fill="#1f8f2f"/>
<rect x="585.7" y="498.6" width="251.6" height="176.8" fill="#fff" stroke="#262626" stroke-width="2.6"/>
<path d="M602.6 511.35H623.8V517.05H602.6Z M610.35 503.6H616.05V524.8H610.35Z" fill="#ebe12a"/>
<text x="639.9" y="523.4" font-size="23" font-weight="bold" text-anchor="start" fill="#000" >DI-water</text>
<path d="M602.6 540.49H623.8V546.19H602.6Z M610.35 532.74H616.05V553.94H610.35Z" fill="#8b1a3b"/>
<text x="639.9" y="552.54" font-size="23" font-weight="bold" text-anchor="start" fill="#000" >Isopropyl Alcohol</text>
<path d="M602.6 569.63H623.8V575.33H602.6Z M610.35 561.88H616.05V583.08H610.35Z" fill="#ff7f0e"/>
<text x="639.9" y="581.68" font-size="23" font-weight="bold" text-anchor="start" fill="#000" >Toluene</text>
<path d="M602.6 598.77H623.8V604.47H602.6Z M610.35 591.02H616.05V612.22H610.35Z" fill="#1e8fff"/>
<text x="639.9" y="610.82" font-size="23" font-weight="bold" text-anchor="start" fill="#000" >Ethanol</text>
<path d="M602.6 627.91H623.8V633.61H602.6Z M610.35 620.16H616.05V641.36H610.35Z" fill="#0000ff"/>
<text x="639.9" y="639.96" font-size="23" font-weight="bold" text-anchor="start" fill="#000" >Cloroform</text>
<path d="M602.6 657.05H623.8V662.75H602.6Z M610.35 649.3H616.05V670.5H610.35Z" fill="#1f8f2f"/>
<text x="639.9" y="669.1" font-size="23" font-weight="bold" text-anchor="start" fill="#000" >Acetone</text>
</svg></body></html>
